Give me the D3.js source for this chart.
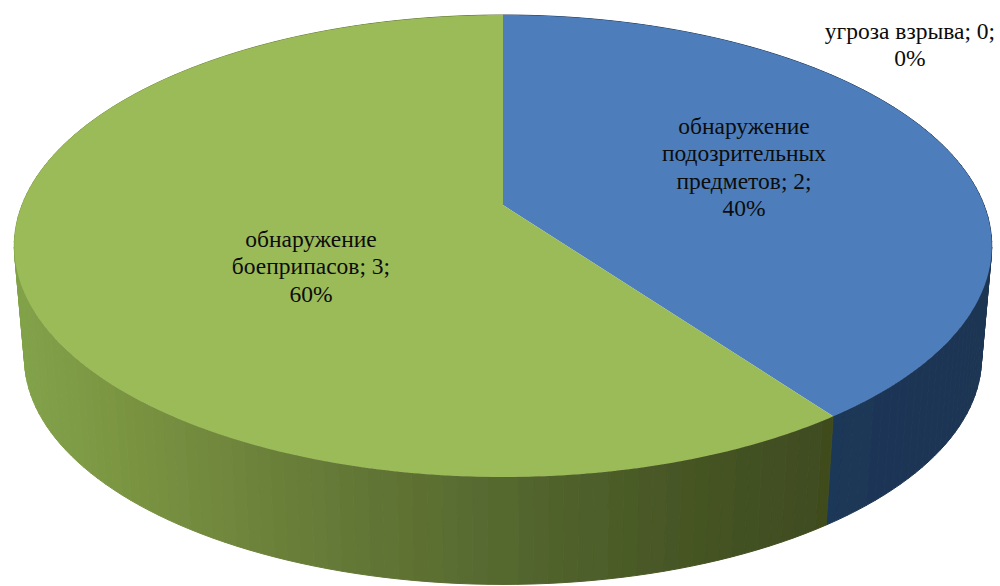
<!DOCTYPE html>
<html><head><meta charset="utf-8">
<script src="https://cdn.jsdelivr.net/npm/d3@7"></script>
<style>html,body{margin:0;padding:0;background:#fff}svg{display:block}
text{font-family:"Liberation Serif","Times New Roman",Times,serif;font-size:23.5px;fill:#0c0c0c;text-anchor:middle}</style>
</head><body><svg id="c" width="1000" height="586"></svg>
<script>
// --- data ---
const categories = ["обнаружение подозрительных предметов", "обнаружение боеприпасов", "угроза взрыва"];
const values = [2, 3, 0];
const topColors = ["#4d7ebb", "#9bbb59", "#c0504d"];
const labelLines = [["обнаружение", "подозрительных", "предметов;"], ["обнаружение", "боеприпасов;"], ["угроза взрыва;"]];

// --- layout ---
const W = 1000, H = 586;
const apex = {x: 503, y: 205}, A = 481, B = 223.7, k = 0.1775;
const baseScale = {x: 0.979, y: 0.98, dy: 117};
const labelAnchors = [{x: 744, y: 134, lh: 27.3}, {x: 311, y: 247, lh: 27.3}, {x: 910, y: 39, lh: 27.3}];

const svg = d3.select("#c");
const defs = svg.append("defs");
defs.append("filter").attr("id", "soft").attr("x", "-5%").attr("y", "-5%").attr("width", "110%").attr("height", "110%")
  .append("feGaussianBlur").attr("stdDeviation", 0.6);

// perspective projection of the unit circle onto the top plane
const project = t => {
  const u = Math.sin(t), v = -Math.cos(t), w = 1 - k * v;
  return [apex.x + A * u / w, apex.y + B * v / w];
};
const lower = ([x, y]) => [apex.x + (x - apex.x) * baseScale.x, y * baseScale.y + baseScale.dy];

const pie = d3.pie().sort(null).value(d => d)(values);
const line = d3.line();

const greenSide = d3.scaleLinear()
  .domain([15, 100, 300, 500, 700, 835])
  .range(["#82a249", "#7c9743", "#687d38", "#55682f", "#455423", "#404c1f"])
  .clamp(true);
const blueSide = d3.scaleLinear().domain([830, 990]).range(["#1f3758", "#1f3553"]).clamp(true);
const sideColor = [blueSide, greenSide, blueSide];

const g = svg.append("g").attr("filter", "url(#soft)");

// side wall: strips along each slice's rim
const step = Math.PI / 120;
pie.forEach((d, i) => {
  if (d.endAngle <= d.startAngle) return;
  const ts = d3.range(d.startAngle, d.endAngle, step).concat(d.endAngle);
  d3.pairs(ts).forEach(([a, b]) => {
    const pa = project(a), pb = project(b);
    const col = sideColor[i]((pa[0] + pb[0]) / 2);
    g.append("path").attr("d", line([pa, pb, lower(pb), lower(pa)]) + "Z")
      .attr("fill", col).attr("stroke", col).attr("stroke-width", 1);
  });
});

// top face
const fine = Math.PI / 360;
pie.forEach((d, i) => {
  if (d.endAngle <= d.startAngle) return;
  const ts = d3.range(d.startAngle, d.endAngle, fine).concat(d.endAngle);
  g.append("path").attr("d", line([[apex.x, apex.y], ...ts.map(project)]) + "Z")
    .attr("fill", topColors[i]);
});

// labels
const total = d3.sum(values);
const fmt = d3.format(".0%");
pie.forEach((d, i) => {
  const a = labelAnchors[i];
  const lines = labelLines[i].slice();
  lines[lines.length - 1] += " " + values[i] + ";";
  lines.push(fmt(values[i] / total));
  svg.append("text").selectAll("tspan").data(lines).join("tspan")
    .attr("x", a.x).attr("y", (_, j) => a.y + j * a.lh).text(t => t);
});
</script></body></html>
